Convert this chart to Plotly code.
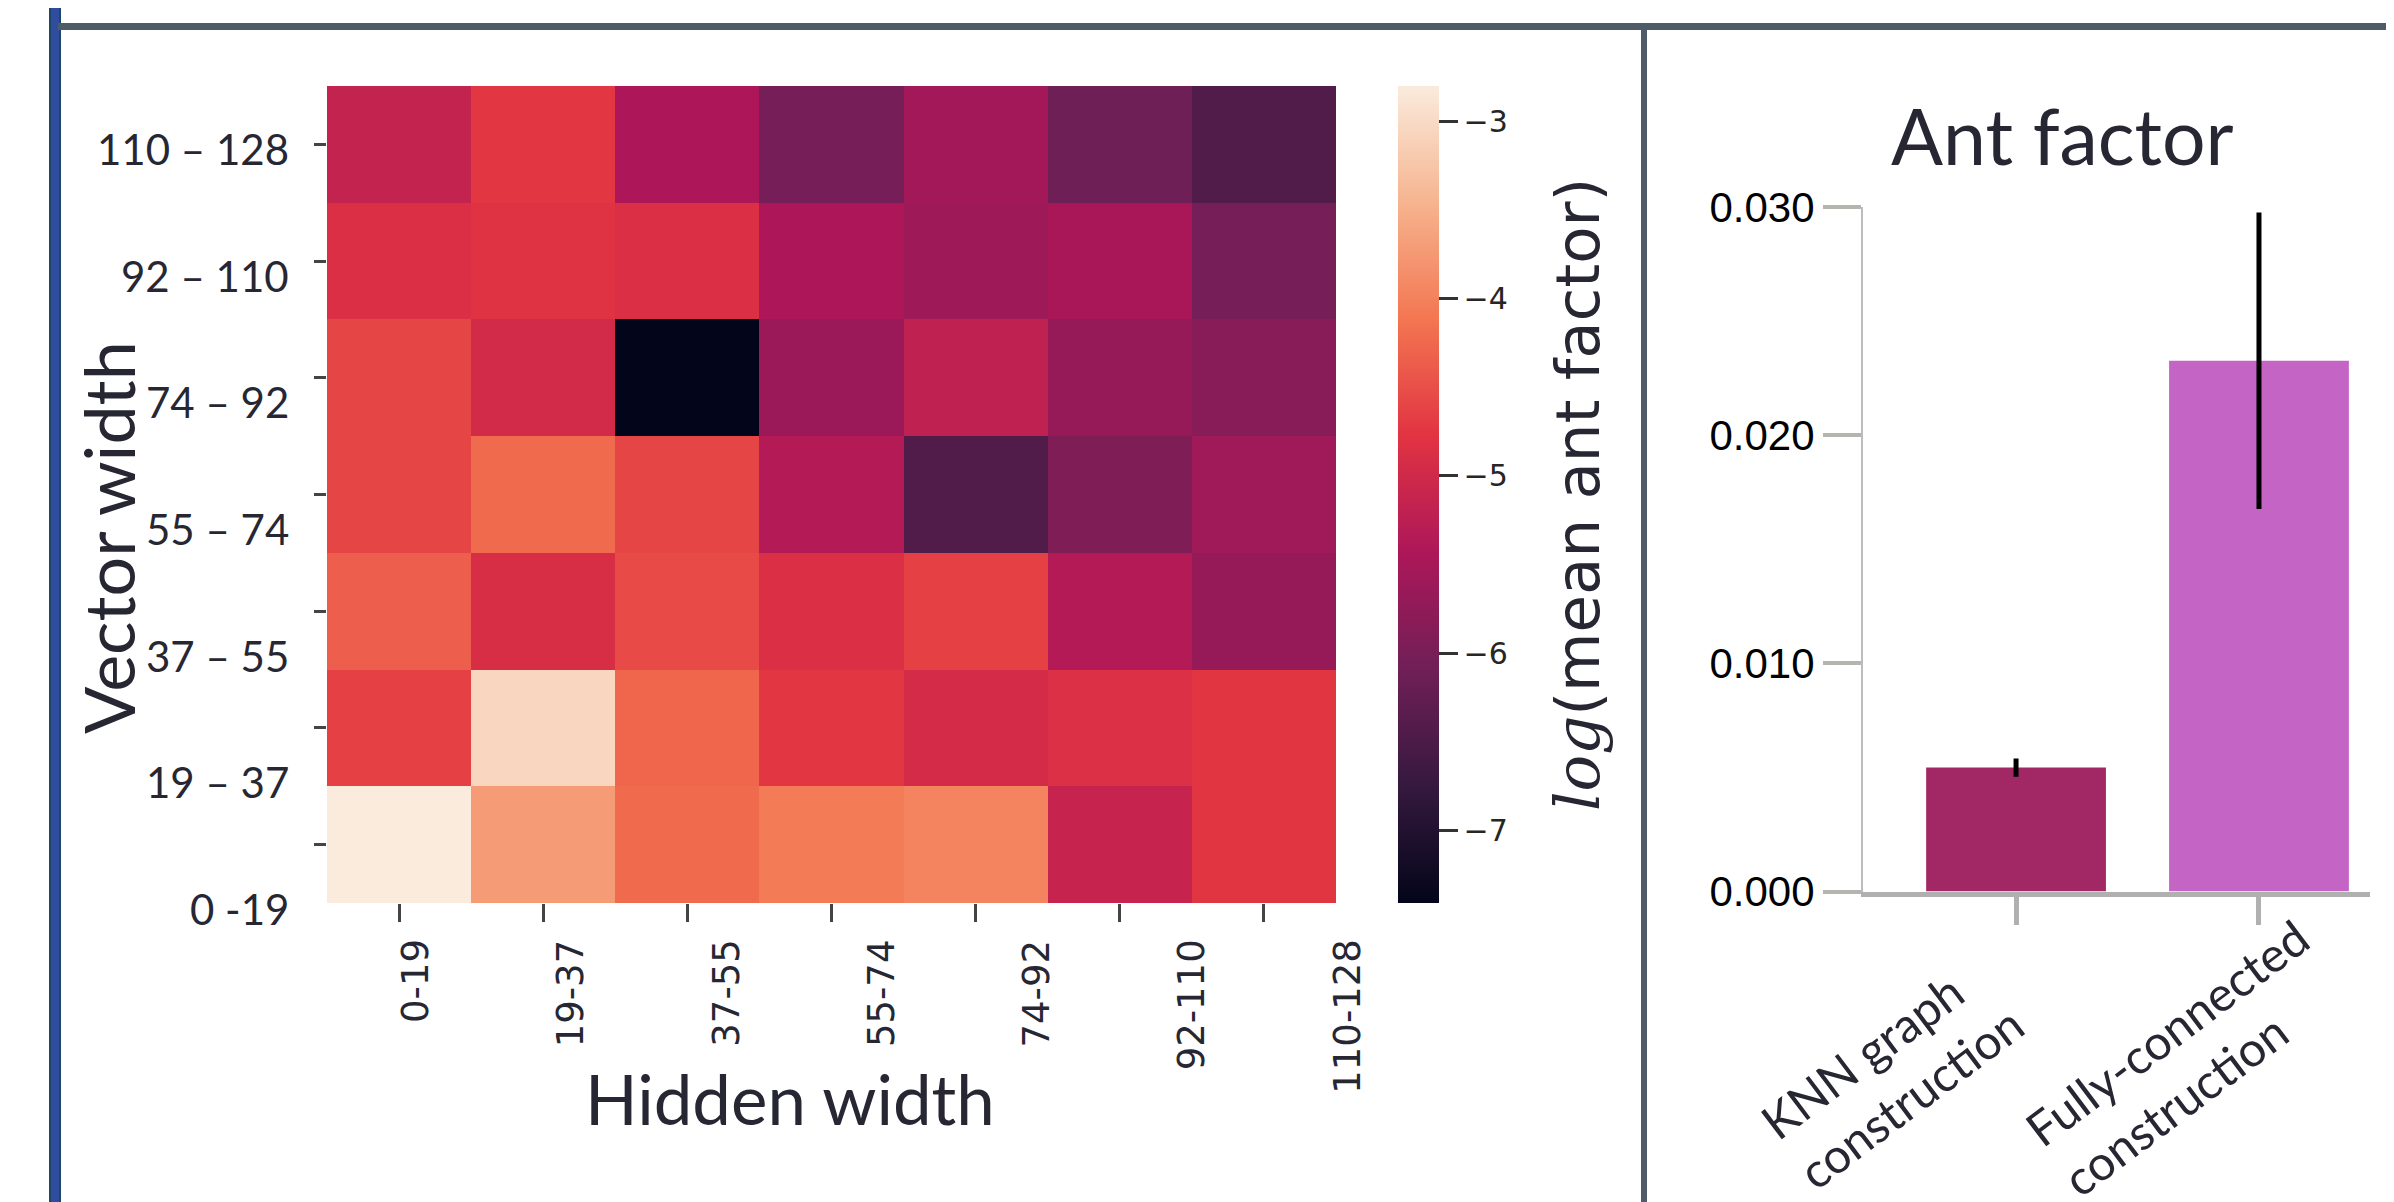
import plotly.graph_objects as go

# ---------------- data ----------------
hidden_labels = ["0-19", "19-37", "37-55", "55-74", "74-92", "92-110", "110-128"]
vector_labels = ["0 -19", "19 – 37", "37 – 55", "55 – 74", "74 – 92", "92 – 110", "110 – 128"]  # bottom -> top

# log(mean ant factor), rows bottom (0-19) -> top (110-128), columns = hidden width bins
z_0_19 = [-2.80, -3.72, -4.23, -4.05, -3.97, -5.12, -4.76]
z_19_37 = [-4.64, -3.05, -4.28, -4.74, -4.94, -4.85, -4.76]
z_37_55 = [-4.34, -4.90, -4.55, -4.86, -4.64, -5.34, -5.68]
z_55_74 = [-4.60, -4.23, -4.60, -5.34, -6.43, -5.93, -5.57]
z_74_92 = [-4.60, -4.97, -7.41, -5.63, -5.20, -5.68, -5.84]
z_92_110 = [-4.86, -4.80, -4.87, -5.43, -5.60, -5.47, -6.03]
z_110_128 = [-5.15, -4.74, -5.43, -6.03, -5.54, -6.12, -6.43]
z = [z_0_19, z_19_37, z_37_55, z_55_74, z_74_92, z_92_110, z_110_128]

cbar_ticks = [-7, -6, -5, -4, -3]

methods = ["KNN graph<br>construction", "Fully-connected<br>construction"]
ant_factor = [0.00543, 0.02326]
ant_err = [0.0004, 0.0065]
bar_colors = ["#a12865", "#c464c4"]
bar_yticks = [0.0, 0.01, 0.02, 0.03]

# ---------------- styling ----------------
OFF = 8                     # page body margin of the browser
W, H = 2394 - OFF, 1202 - OFF
rocket = [
    [0.0, "#03051a"], [0.143, "#35193e"], [0.286, "#701f57"], [0.429, "#ad1759"],
    [0.571, "#e13342"], [0.714, "#f37651"], [0.857, "#f6b48f"], [1.0, "#faebdd"],
]
CAL = "Lato, 'Open Sans', sans-serif"
DV = "'DejaVu Sans', sans-serif"
TXT = "#272733"
cat_label_dx = [-125, -74]      # label block offset from its tick (px)
cat_label_y = [1072, 1057]      # label block vertical centre (px from top)


def px(x):
    return (x - OFF) / W


def py(y):
    return 1 - (y - OFF) / H


# heatmap axis domains (paper fractions)
HX = [px(327), px(1336)]
HY = [py(903), py(86)]
n = len(hidden_labels)


def hx_paper(v):
    return HX[0] + (v + 0.5) / n * (HX[1] - HX[0])


def hy_paper(v):
    return HY[0] + (v + 0.5) / n * (HY[1] - HY[0])


fig = go.Figure()

zmin = min(min(r) for r in z)
zmax = max(max(r) for r in z)

fig.add_trace(go.Heatmap(
    z=z, x=list(range(len(hidden_labels))), y=list(range(len(vector_labels))),
    colorscale=rocket, zmin=zmin, zmax=zmax, xaxis="x", yaxis="y",
    hoverinfo="skip",
    colorbar=dict(
        x=px(1398), xanchor="left", y=py(86), yanchor="top",
        len=(903 - 86) / H, lenmode="fraction", thickness=41, thicknessmode="pixels",
        xpad=0, ypad=0, outlinewidth=0,
        tickvals=cbar_ticks, ticks="outside", ticklen=19, tickwidth=3, tickcolor="#333333",
        tickfont=dict(family=DV, size=30, color="#262626"),
    ),
))

fig.add_trace(go.Bar(
    x=methods, y=ant_factor, width=0.74,
    marker=dict(color=bar_colors, line=dict(width=0)),
    error_y=dict(type="data", array=ant_err, color="black", thickness=5, width=0),
    xaxis="x2", yaxis="y2", hoverinfo="skip",
))

annotations = []
for i, lab in enumerate(hidden_labels):
    annotations.append(dict(
        x=hx_paper(0.11 + 1.078 * i), xref="paper", y=py(937), yref="paper",
        text=lab, showarrow=False, textangle=-90, xanchor="center", yanchor="top",
        font=dict(family=DV, size=37, color=TXT),
    ))
for i, lab in enumerate(vector_labels):
    annotations.append(dict(
        x=px(291), xref="paper", y=hy_paper(-0.55 + 1.085 * i), yref="paper",
        text=lab, showarrow=False, xanchor="right", yanchor="middle",
        font=dict(family=CAL, size=42, color=TXT),
    ))
for i, lab in enumerate(methods):
    annotations.append(dict(
        x=i, xref="x2", xshift=cat_label_dx[i], y=py(cat_label_y[i]), yref="paper",
        text=lab, showarrow=False, textangle=-37, align="left",
        xanchor="center", yanchor="middle",
        font=dict(family=CAL, size=48, color=TXT),
    ))
annotations += [
    dict(x=px(790), y=py(1098), xref="paper", yref="paper", text="Hidden width",
         showarrow=False, xanchor="center", yanchor="middle",
         font=dict(family=CAL, size=69, color=TXT)),
    dict(x=px(108), y=py(538), xref="paper", yref="paper", text="Vector width",
         showarrow=False, textangle=-90, xanchor="center", yanchor="middle",
         font=dict(family=CAL, size=70, color=TXT)),
    dict(x=px(1577), y=py(495), xref="paper", yref="paper",
         text="<i><span style=\"font-family:'DejaVu Serif'\">log</span></i>(mean ant factor)",
         showarrow=False, textangle=-90, xanchor="center", yanchor="middle",
         font=dict(family=DV, size=61, color=TXT)),
    dict(x=px(2062), y=py(135), xref="paper", yref="paper", text="Ant factor",
         showarrow=False, xanchor="center", yanchor="middle",
         font=dict(family=CAL, size=77, color=TXT)),
]

shapes = [
    dict(type="rect", xref="paper", yref="paper", x0=px(50), x1=px(60), y0=-0.01, y1=1.01,
         fillcolor="#2f4c9e", line=dict(color="#1c476b", width=2), layer="above"),
    dict(type="rect", xref="paper", yref="paper", x0=px(58), x1=1.01, y0=py(30), y1=py(23),
         fillcolor="#4f5b69", line=dict(width=0), layer="above"),
    dict(type="rect", xref="paper", yref="paper", x0=px(1641), x1=px(1647), y0=-0.01, y1=py(28),
         fillcolor="#4f5b69", line=dict(width=0), layer="above"),
]

fig.update_layout(
    template="none",
    width=W, height=H, autosize=False,
    margin=dict(l=0, r=0, t=0, b=0, pad=0, autoexpand=False),
    paper_bgcolor="white", plot_bgcolor="white",
    showlegend=False,
    annotations=annotations, shapes=shapes,
    xaxis=dict(domain=HX, range=[-0.5, 6.5], showgrid=False, zeroline=False, automargin=False,
               showticklabels=False, tickvals=list(range(7)), ticks="outside", ticklen=18,
               tickwidth=3, tickcolor="#444444", anchor="y", showline=False),
    yaxis=dict(domain=HY, range=[-0.5, 6.5], showgrid=False, zeroline=False, automargin=False,
               showticklabels=False, tickvals=list(range(7)), ticks="outside", ticklen=12,
               tickwidth=3, tickcolor="#444444", anchor="x", showline=False),
    xaxis2=dict(domain=[px(1863), px(2370)], range=[-0.63, 1.457], anchor="y2", automargin=False,
                showgrid=False, zeroline=False, showline=True, linecolor="#b0b0b0", linewidth=5,
                ticks="outside", ticklen=28, tickwidth=5, tickcolor="#b0b0b0",
                showticklabels=False),
    yaxis2=dict(domain=[py(891.5), py(207)], range=[0, 0.030], anchor="x2", automargin=False,
                showgrid=False, zeroline=False, showline=True, linecolor="#bdbdbd", linewidth=2,
                tickvals=bar_yticks, tickformat=".3f", ticks="outside", ticklen=38, tickwidth=4,
                tickcolor="#b5b5b0",
                tickfont=dict(family="'Liberation Sans', Arial, sans-serif", size=42, color="black")),
)

fig.write_html("out.html")
